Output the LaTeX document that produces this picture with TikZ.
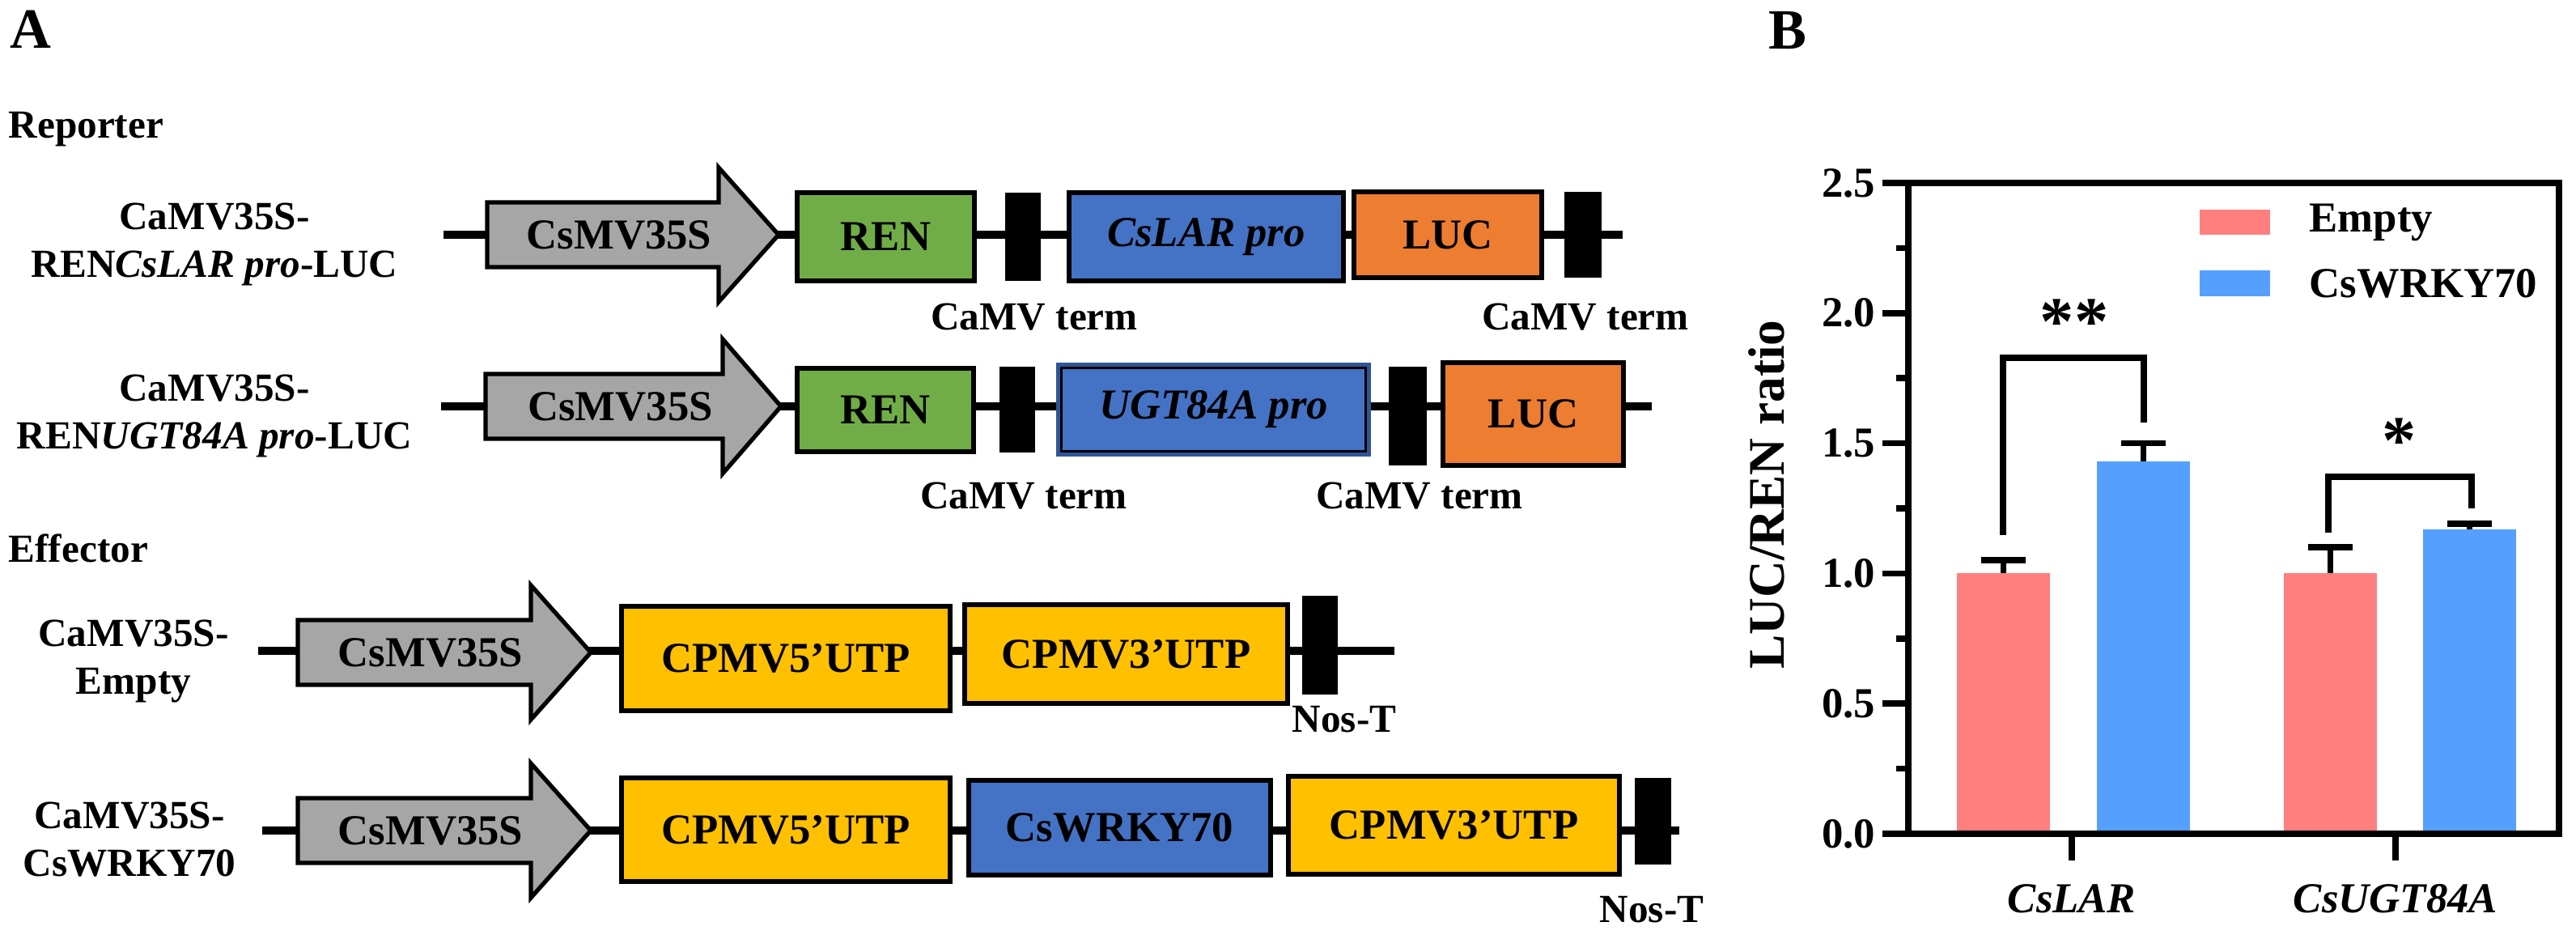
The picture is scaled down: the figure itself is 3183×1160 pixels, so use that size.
\documentclass[tikz,border=0pt]{standalone}
\usepackage{fontspec}
\setmainfont{Liberation Serif}
\definecolor{cgreen}{HTML}{70AD47}
\definecolor{cblue}{HTML}{4472C4}
\definecolor{cblued}{HTML}{2F5597}
\definecolor{corange}{HTML}{ED7D31}
\definecolor{cgold}{HTML}{FFC000}
\definecolor{cgrey}{HTML}{A6A6A6}
\definecolor{cpink}{HTML}{FF7F7F}
\definecolor{cbar}{HTML}{55A0FF}
\newcommand\blk[7]{\node[box,fill=#6,minimum width={(#4-#2)*0.01cm},minimum height={(#5-#3)*0.01cm}] (#1) at ({(#2+#4)/2},{(#3+#5)/2}) {#7};}
\newcommand\trm[5]{\node[term,minimum width={(#4-#2)*0.01cm},minimum height={(#5-#3)*0.01cm}] (#1) at ({(#2+#4)/2},{(#3+#5)/2}) {};}
% name, yline, xleft, xhead, xtip
\newcommand\prom[5]{\draw[arrowbox] (#3,#2-40) -- (#4,#2-40) -- (#4,#2-83) -- (#5,#2) -- (#4,#2+83) -- (#4,#2+40) -- (#3,#2+40) -- cycle;
\node[txt] (#1) at ({(#3+#4)/2+20},#2) {CsMV35S};}
\tikzset{
 box/.style={draw=black,line width=1.5pt,inner sep=0pt,font=\fontsize{15}{18}\selectfont\bfseries},
 term/.style={fill=black,draw=none,inner sep=0pt},
 arrowbox/.style={draw=black,line width=1.5pt,fill=cgrey},
 txt/.style={font=\fontsize{15}{18}\selectfont\bfseries,inner sep=0pt},
 lbl/.style={font=\fontsize{14}{17}\selectfont\bfseries,inner sep=0pt,align=center},
 bb/.style={line width=2.8pt},
 ax/.style={line width=2.2pt},
 ann/.style={font=\fontsize{15}{18}\selectfont\bfseries,inner sep=0pt},
}
\begin{document}
\begin{tikzpicture}[x=0.01cm,y=-0.01cm]
\useasboundingbox (0,0) rectangle (3183,1160);
% ---------- Panel A
\node[font=\fontsize{20}{24}\selectfont\bfseries,anchor=north west,inner sep=0pt] (A) at (12,12) {A};
\node[lbl,anchor=west] (rep) at (10,160) {Reporter};
\node[lbl,anchor=west] (eff) at (10,677) {Effector};
% row 1
\coordinate (r1s) at (548,290); \coordinate (r1e) at (2005,290);
\draw[bb] (r1s) -- (r1e);
\prom{p1}{290}{602}{888}{962}
\blk{ren1}{985}{238}{1204}{347}{cgreen}{REN}
\trm{t11}{1242}{238}{1286}{347}
\blk{lar}{1321}{238}{1660}{347}{cblue}{\itshape CsLAR pro}
\blk{luc1}{1673}{237}{1905}{343}{corange}{LUC}
\trm{t12}{1933}{237}{1979}{343}
\node[lbl] at (1278,392) {CaMV term};
\node[lbl] at (1959,392) {CaMV term};
\node[lbl] at (265,302) {CaMV35S-\\REN\textit{CsLAR pro}-LUC};
% row 2
\coordinate (r2s) at (545,502); \coordinate (r2e) at (2041,502);
\draw[bb] (r2s) -- (r2e);
\prom{p2}{502}{600}{893}{965}
\blk{ren2}{985}{455}{1203}{558}{cgreen}{REN}
\trm{t21}{1235}{453}{1279}{559}
\blk{ugt}{1310}{453}{1689}{559}{cblue}{\itshape UGT84A pro}
\draw[cblued,line width=1.5pt] (ugt.north west) rectangle (ugt.south east);
\trm{t22}{1716}{453}{1763}{575}
\blk{luc2}{1783}{448}{2006}{575}{corange}{LUC}
\node[lbl] at (1265,613) {CaMV term};
\node[lbl] at (1754,613) {CaMV term};
\node[lbl] at (265,514) {CaMV35S-\\REN\textit{UGT84A pro}-LUC};
% row 3
\coordinate (r3s) at (319,804); \coordinate (r3e) at (1723,804);
\draw[bb] (r3s) -- (r3e);
\prom{p3}{806}{368}{656}{730}
\blk{c51}{768}{749}{1174}{878}{cgold}{CPMV5’UTP}
\blk{c31}{1192}{747}{1591}{869}{cgold}{CPMV3’UTP}
\trm{t31}{1609}{736}{1653}{858}
\node[lbl] at (1661,889) {Nos-T};
\node[lbl] at (165,817) {CaMV35S-\\Empty};
% row 4
\coordinate (r4s) at (324,1026); \coordinate (r4e) at (2075,1026);
\draw[bb] (r4s) -- (r4e);
\prom{p4}{1026}{368}{656}{730}
\blk{c52}{768}{961}{1174}{1089}{cgold}{CPMV5’UTP}
\blk{wr}{1197}{964}{1570}{1081}{cblue}{CsWRKY70}
\blk{c32}{1592}{959}{2001}{1080}{cgold}{CPMV3’UTP}
\trm{t41}{2020}{961}{2065}{1068}
\node[lbl] at (2041,1124) {Nos-T};
\node[lbl] at (160,1037) {CaMV35S-\\CsWRKY70};
% ---------- Panel B
\node[font=\fontsize{20}{24}\selectfont\bfseries,anchor=north west,inner sep=0pt] (B) at (2185,14) {B};
% bars
\fill[cpink] (2418,1030) rectangle (2533,708.4);
\fill[cbar] (2591,1030) rectangle (2706,570.1);
\fill[cpink] (2822,1030) rectangle (2937,708.4);
\fill[cbar] (2994,1030) rectangle (3109,653.7);
% error bars
\draw[ax] (2475.5,708.4) -- (2475.5,692.3) (2448,692.3) -- (2503,692.3);
\draw[ax] (2648.5,570.1) -- (2648.5,547.6) (2621,547.6) -- (2676,547.6);
\draw[ax] (2879.5,708.4) -- (2879.5,676.2) (2852,676.2) -- (2907,676.2);
\draw[ax] (3051.5,653.7) -- (3051.5,647.3) (3024,647.3) -- (3079,647.3);
% frame
\draw[ax] (2358,226) rectangle (3162,1030);
\foreach \v/\t in {0/0.0,0.5/0.5,1/1.0,1.5/1.5,2/2.0,2.5/2.5}{
 \draw[ax] (2326,1030-\v*321.6) -- (2358,1030-\v*321.6);
 \node[ann,anchor=east] at (2318,1030-\v*321.6) {\t};}
\foreach \v in {0.25,0.75,1.25,1.75,2.25}{
 \draw[ax] (2343,1030-\v*321.6) -- (2358,1030-\v*321.6);}
\draw[ax] (2560,1030) -- (2560,1063);
\draw[ax] (2960,1030) -- (2960,1063);
\node[ann,font=\fontsize{15}{18}\selectfont\bfseries\itshape] at (2560,1110) {CsLAR};
\node[ann,font=\fontsize{15}{18}\selectfont\bfseries\itshape] at (2960,1110) {CsUGT84A};
\node[ann,font=\fontsize{18}{22}\selectfont\bfseries,rotate=90] at (2183,611) {LUC/REN ratio};
% significance
\draw[ax] (2475,661) -- (2475,442) -- (2649,442) -- (2649,522);
\node[ann,font=\fontsize{24}{28}\selectfont\bfseries] at (2563,398) {**};
\draw[ax] (2877,658) -- (2877,589) -- (3054,589) -- (3054,628);
\node[ann,font=\fontsize{24}{28}\selectfont\bfseries] at (2965,545) {*};
% legend
\fill[cpink] (2718,259) rectangle (2805,290);
\fill[cbar] (2718,334) rectangle (2805,366);
\node[ann,anchor=west] at (2853,275) {Empty};
\node[ann,anchor=west] at (2853,350) {CsWRKY70};
\end{tikzpicture}
\end{document}
